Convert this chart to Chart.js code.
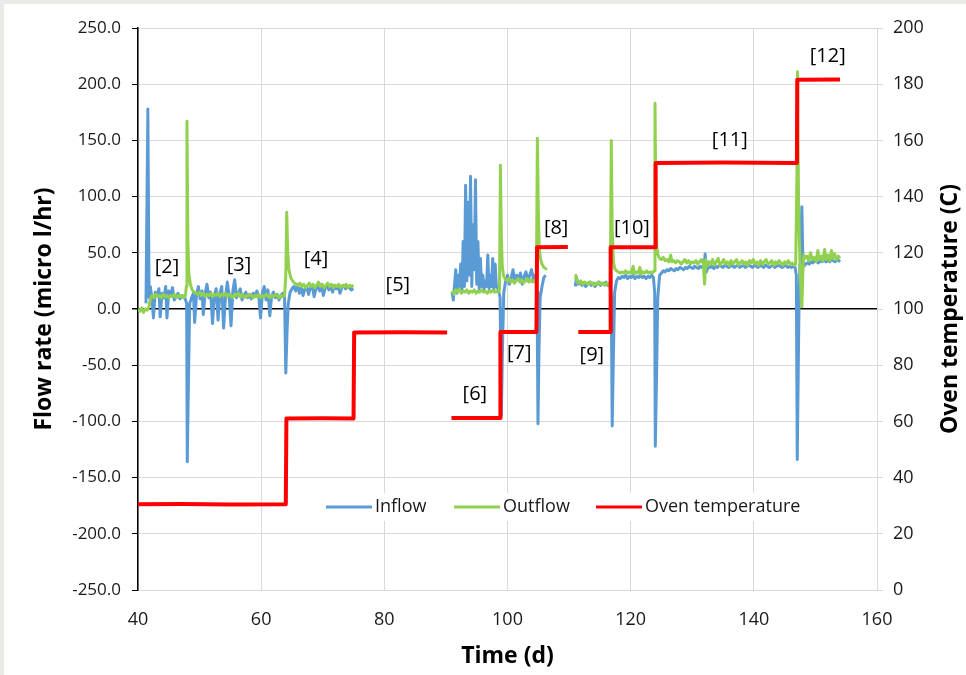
<!DOCTYPE html>
<html>
<head>
<meta charset="utf-8">
<title>Flow rate and oven temperature</title>
<script src="https://cdn.jsdelivr.net/npm/chart.js@4.4.1/dist/chart.umd.min.js"></script>
<style>
    html, body { margin: 0; padding: 0; background: #ebeae6; }
    #wrap { position: absolute; left: 4px; top: 4px; width: 962px; height: 671px; background: #fff; }
    canvas { display: block; }
</style>
</head>
<body>
<div id="wrap"><canvas id="flowChart" width="962" height="671"></canvas></div>
<script>
// [day, micro l/hr]; null breaks the line where no data was logged
var inflow = [
    [41.3, 5], [41.6, 178], [41.8, 10], [42.0, 20], [42.3, 8], [42.5, -8], [42.8, 15], [43.1, 12], [43.4, 18],
    [43.6, -7], [43.9, 14], [44.2, 10], [44.5, 20], [44.7, -8], [45.0, 16], [45.3, 12], [45.6, 19], [45.9, 8],
    [46.2, 11], [46.5, 14], [46.8, 9], [47.2, 12], [47.6, 10], [47.9, 5], [48.0, -136], [48.2, -60], [48.4, 5],
    [48.7, 10], [49.0, 14], [49.2, -12], [49.5, 12], [49.8, 20], [50.1, 9], [50.4, 16], [50.6, -5], [50.9, 14],
    [51.2, 22], [51.5, 10], [51.8, 15], [52.1, -13], [52.4, 12], [52.7, 18], [53.0, -10], [53.3, 14], [53.6, 20],
    [53.9, -17], [54.2, 10], [54.5, 24], [54.8, 12], [55.1, -15], [55.4, 16], [55.7, 26], [56.0, 10], [56.3, 14],
    [56.6, 18], [56.9, 8], [57.2, 12], [57.5, 15], [57.8, 10], [58.1, 13], [58.4, 9], [58.7, 14], [59.0, 11],
    [59.3, 16], [59.6, 12], [59.9, -8], [60.2, 14], [60.5, 20], [60.8, 8], [61.1, 17], [61.4, -6], [61.7, 12],
    [62.0, 15], [62.3, 10], [62.6, 13], [62.9, 8], [63.2, 12], [63.5, 14], [63.8, 10], [64.0, -57], [64.2, -20],
    [64.4, 5], [64.7, 15], [65.0, 18], [65.3, 20], [65.6, 16], [65.9, 22], [66.2, 14], [66.5, 19], [66.8, 12],
    [67.1, 18], [67.4, 20], [67.7, 13], [68.0, 19], [68.3, 21], [68.6, 11], [68.9, 18], [69.2, 20], [69.5, 16],
    [69.8, 22], [70.1, 12], [70.4, 19], [70.7, 21], [71.0, 17], [71.3, 20], [71.6, 15], [71.9, 21], [72.2, 18],
    [72.5, 20], [72.8, 14], [73.1, 19], [73.4, 21], [73.7, 18], [74.0, 20], [74.3, 19], [74.6, 17], [75.0, 18],
    [75.5, null],
    [91.0, 15], [91.2, 8], [91.4, 22], [91.6, 35], [91.8, 14], [92.0, 30], [92.2, 18], [92.4, 40], [92.6, 16],
    [92.8, 60], [93.0, 20], [93.2, 110], [93.4, 25], [93.6, 95], [93.8, 30], [94.0, 118], [94.2, 20], [94.4, 75],
    [94.6, 35], [94.8, 115], [95.0, 22], [95.2, 60], [95.4, 18], [95.6, 45], [95.8, 20], [96.0, 30], [96.2, 18],
    [96.4, 25], [96.6, 20], [96.8, 48], [97.0, 18], [97.2, 30], [97.4, 20], [97.6, 45], [97.8, 18], [98.0, 40],
    [98.2, 20], [98.5, 18], [98.8, 10], [99.0, -95], [99.2, -30], [99.4, 15], [99.7, 25], [100.0, 30], [100.3, 22],
    [100.6, 28], [100.9, 35], [101.2, 24], [101.5, 30], [101.8, 26], [102.1, 32], [102.4, 22], [102.7, 29],
    [103.0, 33], [103.3, 25], [103.6, 30], [103.9, 35], [104.2, 27], [104.5, 30], [104.8, 15], [104.95, -102],
    [105.1, -40], [105.3, 10], [105.6, 20], [105.9, 28], [106.2, 30],
    [106.8, null],
    [111.0, 20], [111.2, 28], [111.5, 22], [111.8, 24], [112.1, 21], [112.4, 23], [112.7, 20], [113.0, 22],
    [113.3, 24], [113.6, 21], [113.9, 23], [114.2, 20], [114.5, 22], [114.8, 24], [115.1, 21], [115.4, 23],
    [115.7, 22], [116.0, 24], [116.3, 21], [116.6, 22], [116.85, 10], [117.0, -104], [117.2, -40], [117.4, 15],
    [117.7, 25], [118.0, 28], [118.3, 27], [118.6, 29], [118.9, 28], [119.2, 30], [119.5, 27], [119.8, 29],
    [120.1, 28], [120.4, 30], [120.7, 27], [121.0, 29], [121.3, 28], [121.6, 30], [121.9, 28], [122.2, 29],
    [122.5, 27], [122.8, 29], [123.1, 28], [123.4, 30], [123.7, 28], [123.9, 15], [124.0, -122], [124.2, -60],
    [124.4, 10], [124.7, 30], [125.0, 32], [125.3, 34], [125.6, 33], [125.9, 35], [126.2, 34], [126.5, 36],
    [126.8, 35], [127.1, 34], [127.4, 36], [127.7, 35], [128.0, 37], [128.3, 36], [128.6, 35], [128.9, 37],
    [129.2, 36], [129.5, 38], [129.8, 37], [130.1, 36], [130.4, 38], [130.7, 37], [131.0, 36], [131.3, 38],
    [131.6, 37], [131.9, 36], [132.1, 49], [132.3, 33], [132.6, 38], [132.9, 37], [133.2, 38], [133.5, 36],
    [133.8, 38], [134.1, 37], [134.4, 39], [134.7, 38], [135.0, 37], [135.3, 39], [135.6, 38], [135.9, 37],
    [136.2, 38], [136.5, 39], [136.8, 37], [137.1, 38], [137.4, 39], [137.7, 37], [138.0, 38], [138.3, 39],
    [138.6, 37], [138.9, 38], [139.2, 39], [139.5, 38], [139.8, 37], [140.1, 39], [140.4, 38], [140.7, 37],
    [141.0, 39], [141.3, 38], [141.6, 37], [141.9, 39], [142.2, 38], [142.5, 37], [142.8, 38], [143.1, 39],
    [143.4, 37], [143.7, 38], [144.0, 39], [144.3, 38], [144.6, 37], [144.9, 38], [145.2, 39], [145.5, 37],
    [145.8, 38], [146.1, 37], [146.4, 38], [146.7, 37], [146.9, 30], [147.05, -134], [147.2, -60], [147.35, 10],
    [147.5, 40], [147.65, 70], [147.8, 91], [147.95, 45], [148.1, 38], [148.4, 40], [148.7, 41], [149.0, 40],
    [149.3, 42], [149.6, 41], [149.9, 43], [150.2, 42], [150.5, 41], [150.8, 43], [151.1, 42], [151.4, 44],
    [151.7, 42], [152.0, 43], [152.3, 42], [152.6, 44], [152.9, 43], [153.2, 42], [153.5, 44], [153.8, 43],
    [154.0, 42]
];

var outflow = [
    [40.0, 0], [40.3, -2], [40.6, 1], [40.9, -3], [41.2, 0], [41.5, -1], [41.8, 2], [42.0, 9], [42.3, 12],
    [42.6, 10], [42.9, 13], [43.2, 11], [43.5, 12], [43.8, 10], [44.1, 13], [44.4, 11], [44.7, 12], [45.0, 10],
    [45.3, 12], [45.6, 11], [45.9, 13], [46.2, 10], [46.5, 12], [46.8, 11], [47.1, 12], [47.4, 10], [47.7, 12],
    [47.85, 20], [47.95, 167], [48.1, 60], [48.25, 32], [48.5, 22], [48.8, 17], [49.1, 15], [49.4, 14],
    [49.7, 13], [50.0, 15], [50.3, 12], [50.6, 14], [50.9, 11], [51.2, 13], [51.5, 12], [51.8, 14], [52.1, 11],
    [52.4, 13], [52.7, 12], [53.0, 14], [53.3, 11], [53.6, 13], [53.9, 12], [54.2, 14], [54.5, 11], [54.8, 13],
    [55.1, 12], [55.4, 10], [55.7, 13], [56.0, 12], [56.3, 14], [56.6, 11], [56.9, 13], [57.2, 10], [57.5, 12],
    [57.8, 11], [58.1, 13], [58.4, 12], [58.7, 10], [59.0, 12], [59.3, 11], [59.6, 13], [59.9, 10], [60.2, 12],
    [60.5, 11], [60.8, 13], [61.1, 12], [61.4, 10], [61.7, 12], [62.0, 11], [62.3, 13], [62.6, 12], [62.9, 10],
    [63.2, 12], [63.5, 11], [63.8, 12], [64.0, 30], [64.15, 86], [64.3, 52], [64.5, 35], [64.8, 28], [65.1, 25],
    [65.4, 23], [65.7, 22], [66.0, 21], [66.3, 23], [66.6, 20], [66.9, 22], [67.2, 19], [67.5, 21], [67.8, 23],
    [68.1, 20], [68.4, 22], [68.7, 19], [69.0, 21], [69.3, 24], [69.6, 20], [69.9, 22], [70.2, 19], [70.5, 21],
    [70.8, 23], [71.1, 20], [71.4, 22], [71.7, 19], [72.0, 21], [72.3, 20], [72.6, 22], [72.9, 19], [73.2, 21],
    [73.5, 20], [73.8, 22], [74.1, 19], [74.4, 21], [74.7, 20], [75.0, 21],
    [75.5, null],
    [91.0, 16], [91.3, 13], [91.6, 17], [91.9, 15], [92.2, 18], [92.5, 14], [92.8, 16], [93.1, 15], [93.4, 17],
    [93.7, 14], [94.0, 16], [94.3, 15], [94.6, 17], [94.9, 14], [95.2, 16], [95.5, 15], [95.8, 17], [96.1, 15],
    [96.4, 16], [96.7, 14], [97.0, 16], [97.3, 15], [97.6, 17], [97.9, 15], [98.2, 16], [98.5, 15], [98.7, 18],
    [98.85, 128], [99.0, 65], [99.15, 38], [99.35, 30], [99.6, 27], [99.9, 25], [100.2, 27], [100.5, 24],
    [100.8, 26], [101.1, 23], [101.4, 25], [101.7, 27], [102.0, 24], [102.3, 26], [102.6, 23], [102.9, 25],
    [103.2, 27], [103.5, 24], [103.8, 26], [104.1, 24], [104.4, 25], [104.7, 26], [104.85, 152], [105.0, 90],
    [105.15, 55], [105.35, 45], [105.6, 40], [105.9, 37], [106.4, 35],
    [106.8, null],
    [111.0, 26], [111.1, 30], [111.3, 24], [111.6, 23], [111.9, 25], [112.2, 22], [112.5, 24], [112.8, 23],
    [113.1, 22], [113.4, 24], [113.7, 23], [114.0, 21], [114.3, 23], [114.6, 22], [114.9, 24], [115.2, 22],
    [115.5, 23], [115.8, 21], [116.1, 23], [116.4, 22], [116.7, 24], [116.85, 150], [117.0, 70], [117.2, 42],
    [117.4, 36], [117.7, 34], [118.0, 33], [118.3, 32], [118.6, 33], [118.9, 32], [119.2, 34], [119.5, 32],
    [119.8, 33], [120.1, 32], [120.4, 38], [120.6, 31], [120.9, 33], [121.2, 32], [121.5, 37], [121.7, 31],
    [122.0, 33], [122.3, 32], [122.6, 34], [122.9, 32], [123.2, 33], [123.5, 32], [123.8, 34], [123.95, 183],
    [124.1, 90], [124.25, 55], [124.45, 48], [124.7, 45], [125.0, 44], [125.3, 46], [125.6, 43], [125.9, 44],
    [126.2, 42], [126.5, 48], [126.7, 42], [127.0, 43], [127.3, 41], [127.6, 43], [127.9, 42], [128.2, 40],
    [128.5, 42], [128.8, 44], [129.1, 41], [129.4, 43], [129.7, 40], [130.0, 42], [130.3, 41], [130.6, 43],
    [130.9, 40], [131.2, 42], [131.5, 44], [131.8, 40], [132.0, 22], [132.2, 44], [132.4, 38], [132.7, 42],
    [133.0, 40], [133.3, 44], [133.6, 39], [133.9, 42], [134.2, 45], [134.5, 39], [134.8, 41], [135.1, 44],
    [135.4, 40], [135.7, 42], [136.0, 39], [136.3, 43], [136.6, 40], [136.9, 42], [137.2, 44], [137.5, 39],
    [137.8, 41], [138.1, 43], [138.4, 40], [138.7, 42], [139.0, 39], [139.3, 43], [139.6, 41], [139.9, 44],
    [140.2, 40], [140.5, 42], [140.8, 39], [141.1, 43], [141.4, 40], [141.7, 42], [142.0, 44], [142.3, 40],
    [142.6, 41], [142.9, 43], [143.2, 39], [143.5, 42], [143.8, 40], [144.1, 43], [144.4, 41], [144.7, 39],
    [145.0, 42], [145.3, 40], [145.6, 43], [145.9, 40], [146.2, 41], [146.5, 39], [146.8, 40], [147.0, 120],
    [147.1, 211], [147.25, 100], [147.4, 60], [147.55, 30], [147.7, 8], [147.8, 2], [147.95, 30], [148.1, 48],
    [148.3, 45], [148.6, 47], [148.9, 43], [149.2, 50], [149.5, 44], [149.8, 46], [150.1, 42], [150.4, 52],
    [150.6, 44], [150.9, 47], [151.2, 43], [151.5, 53], [151.7, 44], [152.0, 48], [152.3, 43], [152.6, 52],
    [152.8, 45], [153.1, 49], [153.4, 44], [153.7, 47], [154.0, 45]
];

// [day, deg C]
var ovenTemp = [
    [40.0, 30.5], [47.0, 30.6], [55.0, 30.4], [64.0, 30.5], [64.1, 61], [70.0, 61.1], [75.0, 61],
    [75.1, 91.6], [83.0, 91.7], [90.2, 91.6], [90.5, null],
    [90.9, 61.2], [98.8, 61.2], [98.85, 91.8], [104.7, 91.8], [104.8, 122], [109.8, 122.1], [110.5, null],
    [111.5, 91.8], [116.7, 91.8], [116.75, 122], [124.0, 122], [124.05, 152], [135.0, 152.1], [147.0, 152],
    [147.05, 181.6], [154.0, 181.7]
];

var stageNames = ['[2]', '[3]', '[4]', '[5]', '[6]', '[7]', '[8]', '[9]', '[10]', '[11]', '[12]'];
var stageDays  = [44.7, 56.4, 68.9, 82.2, 94.7, 101.9, 107.9, 113.7, 120.2, 136.1, 152.0];
var stageFlow  = [37, 39, 44, 21, -76, -39, 72, -41, 72, 150, 225];

var xTicks = [40, 60, 80, 100, 120, 140, 160];

function toPoints(pairs) {
    return pairs.map(function (p) { return { x: p[0], y: p[1] }; });
}

var FONT = "'Open Sans', 'DejaVu Sans', sans-serif";

var stageLabelPlugin = {
    id: 'stageLabels',
    afterDatasetsDraw: function (chart) {
        var ctx = chart.ctx, xs = chart.scales.x, ys = chart.scales.y;
        ctx.save();
        ctx.font = '20px ' + FONT;
        ctx.fillStyle = '#000';
        ctx.textAlign = 'center';
        ctx.textBaseline = 'middle';
        for (var i = 0; i < stageNames.length; i++) {
            ctx.fillText(stageNames[i], xs.getPixelForValue(stageDays[i]), ys.getPixelForValue(stageFlow[i]));
        }
        ctx.restore();
    }
};

// legend sits inside the plot, over the gridlines, with a white box
var boxLegendPlugin = {
    id: 'boxLegend',
    afterDraw: function (chart) {
        var ctx = chart.ctx, area = chart.chartArea;
        var x = area.left + 188, y = area.top + 479;
        ctx.save();
        ctx.font = '18px ' + FONT;
        ctx.textBaseline = 'middle';
        ctx.fillStyle = '#fff';
        ctx.fillRect(x - 8, y - 14, 495, 28);
        var items = chart.data.datasets;
        var gaps = [0, 128, 270];
        for (var i = 0; i < items.length; i++) {
            var lx = x + gaps[i];
            ctx.strokeStyle = items[i].borderColor;
            ctx.lineWidth = 3;
            ctx.beginPath();
            ctx.moveTo(lx, y);
            ctx.lineTo(lx + 46, y);
            ctx.stroke();
            ctx.fillStyle = '#1a1a1a';
            ctx.fillText(items[i].label, lx + 49, y);
        }

        // right axis title reads bottom to top, like the left one
        var ys2 = chart.scales.y2;
        ctx.font = 'bold 23px ' + FONT;
        ctx.textAlign = 'center';
        ctx.translate(ys2.right - 16, (area.top + area.bottom) / 2);
        ctx.rotate(-Math.PI / 2);
        ctx.fillStyle = '#000';
        ctx.fillText('Oven temperature (C)', 0, 0);
        ctx.restore();
    }
};

new Chart(document.getElementById('flowChart').getContext('2d'), {
    type: 'line',
    data: {
        datasets: [{
            label: 'Inflow',
            data: toPoints(inflow),
            borderColor: '#5b9bd5',
            borderWidth: 3,
            yAxisID: 'y',
            order: 3
        }, {
            label: 'Outflow',
            data: toPoints(outflow),
            borderColor: '#92d050',
            borderWidth: 3,
            yAxisID: 'y',
            order: 2
        }, {
            label: 'Oven temperature',
            data: toPoints(ovenTemp),
            borderColor: '#ff0000',
            borderWidth: 4,
            yAxisID: 'y2',
            order: 1
        }]
    },
    options: {
        responsive: false,
        animation: false,
        spanGaps: false,
        elements: {
            point: { radius: 0 },
            line: { tension: 0, borderJoinStyle: 'round', borderCapStyle: 'butt' }
        },
        layout: { padding: { top: 24, left: 0, right: 0, bottom: 0 } },
        plugins: { legend: { display: false }, tooltip: { enabled: false } },
        scales: {
            x: {
                type: 'linear',
                min: 40,
                max: 160,
                afterBuildTicks: function (s) { s.ticks = xTicks.map(function (v) { return { value: v }; }); },
                afterFit: function (s) { s.height = 85; },
                ticks: { color: '#1a1a1a', font: { family: FONT, size: 18 }, padding: 19 },
                grid: { color: '#d9d9d9', lineWidth: 1, drawTicks: false },
                border: { color: '#d9d9d9' },
                title: { display: true, text: 'Time (d)', color: '#000', font: { family: FONT, size: 23, weight: 'bold' }, padding: { top: 0, bottom: 5 } }
            },
            y: {
                position: 'left',
                min: -250,
                max: 250,
                afterFit: function (s) { s.width = 134; },
                ticks: {
                    stepSize: 50,
                    color: '#1a1a1a',
                    font: { family: FONT, size: 17 },
                    padding: 11,
                    callback: function (v) { return v.toFixed(1); }
                },
                grid: {
                    color: function (c) { return c.tick && c.tick.value === 0 ? '#000' : '#d9d9d9'; },
                    lineWidth: function (c) { return c.tick && c.tick.value === 0 ? 1.5 : 1; },
                    tickColor: '#000',
                    tickLength: 6
                },
                border: { color: '#000', width: 1.5 },
                title: { display: true, text: 'Flow rate (micro l/hr)', color: '#000', font: { family: FONT, size: 23, weight: 'bold' }, padding: { top: 27, bottom: 0 } }
            },
            y2: {
                position: 'right',
                min: 0,
                max: 200,
                afterFit: function (s) { s.width = 89; },
                ticks: { stepSize: 20, color: '#1a1a1a', font: { family: FONT, size: 18 }, padding: 10 },
                grid: { drawOnChartArea: false, tickColor: '#d9d9d9', tickLength: 6 },
                border: { color: '#d9d9d9' }
            }
        }
    },
    plugins: [stageLabelPlugin, boxLegendPlugin]
});
</script>
</body>
</html>
